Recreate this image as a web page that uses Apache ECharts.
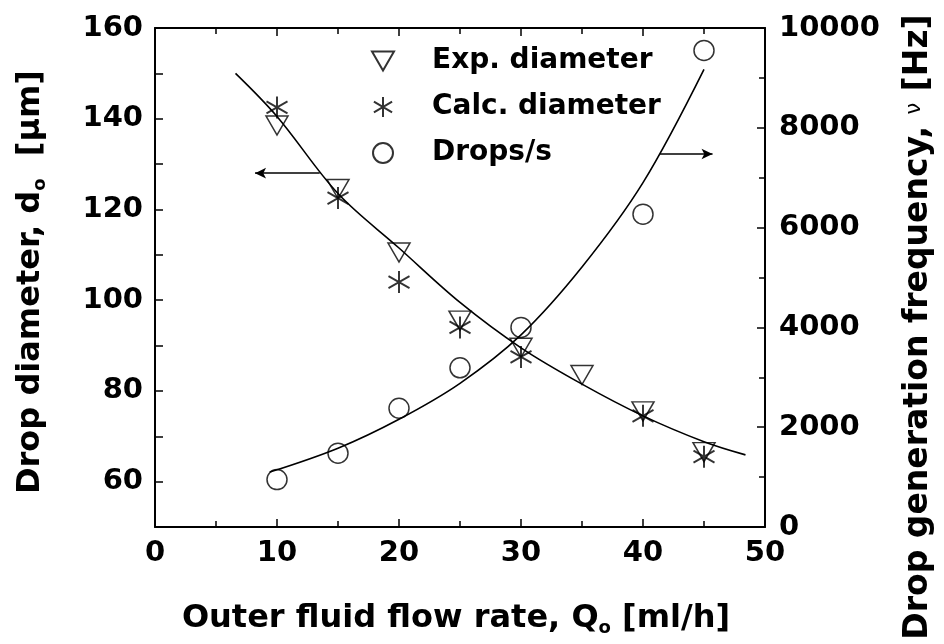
<!DOCTYPE html>
<html><head><meta charset="utf-8">
<script src="https://cdn.jsdelivr.net/npm/echarts@6/dist/echarts.min.js"></script>
<style>html,body{margin:0;padding:0;background:#fff}#c{width:944px;height:644px}</style>
</head><body><div id="c"></div>
<script>
// ---- data ----
const flowRates    = [10, 15, 20, 25, 30, 35, 40, 45];
const expDiameter  = [138.5, 124.5, 110.5, 95.5, 89.5, 83.5, 75.5, 66.5];
const calcFlow     = [10, 15, 20, 25, 30, 40, 45];
const calcDiameter = [142.5, 122.5, 104, 94, 87.5, 74.5, 65.5];
const dropsFlow    = [10, 15, 20, 25, 30, 40, 45];
const dropsPerSec  = [950, 1480, 2380, 3190, 4000, 6270, 9550];
const diamFitX = [6.6, 10, 15, 20, 25, 30, 35, 40, 45, 48.4];
const diamFitY = [150, 140.5, 123.5, 111.5, 99.5, 89.5, 81.5, 74.5, 68.8, 65.9];
const freqFitX = [9.4, 15, 20, 25, 30, 35, 40, 45];
const freqFitY = [1100, 1580, 2160, 2880, 3850, 5210, 6900, 9170];
const leftArrowX = [13.5, 8.2], leftArrowY = 128;
const rightArrowX = [41.4, 45.7], rightArrowY = 7475;
const leftTickLabels = [60, 80, 100, 120, 140, 160];
const legendNames = ['Exp. diameter', 'Calc. diameter', 'Drops/s'];

const zip = (xs, ys) => xs.map((x, i) => [x, ys[i]]);
const FONT = 'DejaVu Sans';
const tickLabel = (m, f) => ({show: true, margin: m, formatter: f, color: '#000', fontFamily: FONT, fontWeight: 'bold', fontSize: 29});
const axLine = () => ({show: true, onZero: false, lineStyle: {color: '#000', width: 2}});
const tick = () => ({show: true, inside: false, length: -8, lineStyle: {color: '#000', width: 1.5}});
const minor = () => ({show: true, splitNumber: 2, length: -6, lineStyle: {color: '#000', width: 1.5}});
const triDown = 'path://M0,0 L22,0 L11,19 Z';
const aster = 'path://M10,0 L10,22 M0,5 L20,17 M0,17 L20,5';
const hollow = () => ({color: 'transparent', borderColor: '#000', borderWidth: 1.5});

const chart = echarts.init(document.getElementById('c'));
chart.setOption({
  animation: false,
  backgroundColor: '#fff',
  grid: {left: 155, right: 179, top: 28, bottom: 117},
  legend: {
    data: legendNames, orient: 'vertical', left: 366, top: 42,
    itemWidth: 22, itemHeight: 20, itemGap: 18,
    textStyle: {color: '#000', fontFamily: FONT, fontWeight: 'bold', fontSize: 28, padding: [0, 0, 0, 33]}
  },
  xAxis: [
    {type: 'value', position: 'bottom', min: 0, max: 50, interval: 10, axisLine: axLine(), axisTick: tick(),
     minorTick: minor(), splitLine: {show: false}, axisLabel: tickLabel(12, v => String(v))},
    {type: 'value', position: 'top', min: 0, max: 50, interval: 10, axisLine: axLine(),
     axisTick: tick(), minorTick: minor(), splitLine: {show: false}, axisLabel: {show: false}}
  ],
  yAxis: [
    {type: 'value', position: 'left', min: 50, max: 160, interval: 10, axisLine: axLine(), axisTick: tick(),
     minorTick: {show: false}, splitLine: {show: false},
     axisLabel: tickLabel(12, v => leftTickLabels.includes(v) ? String(v) : '')},
    {type: 'value', min: 0, max: 10000, interval: 2000, position: 'right', axisLine: axLine(),
     axisTick: tick(), minorTick: minor(), splitLine: {show: false},
     axisLabel: tickLabel(14, v => String(v))}
  ],
  series: [
    {name: 'Exp. diameter', type: 'scatter', data: zip(flowRates, expDiameter),
     symbol: triDown, symbolSize: [22, 19], itemStyle: hollow()},
    {name: 'Calc. diameter', type: 'scatter', data: zip(calcFlow, calcDiameter),
     symbol: aster, symbolSize: [21, 22], itemStyle: {color: 'transparent', borderColor: '#000', borderWidth: 2}},
    {name: 'Drops/s', type: 'scatter', yAxisIndex: 1, data: zip(dropsFlow, dropsPerSec),
     symbol: 'circle', symbolSize: 20, itemStyle: hollow()},
    {name: 'diameter fit', type: 'line', data: zip(diamFitX, diamFitY), smooth: 0.35,
     showSymbol: false, lineStyle: {color: '#000', width: 1.6},
     markLine: {silent: true, symbol: ['none', 'arrow'], symbolSize: [8, 11], label: {show: false},
       lineStyle: {type: 'solid', color: '#000', width: 1.5},
       data: [[{coord: [leftArrowX[0], leftArrowY]}, {coord: [leftArrowX[1], leftArrowY]}]]}},
    {name: 'frequency fit', type: 'line', yAxisIndex: 1, data: zip(freqFitX, freqFitY), smooth: 0.35,
     showSymbol: false, lineStyle: {color: '#000', width: 1.6},
     markLine: {silent: true, symbol: ['none', 'arrow'], symbolSize: [8, 11], label: {show: false},
       lineStyle: {type: 'solid', color: '#000', width: 1.5},
       data: [[{coord: [rightArrowX[0], rightArrowY]}, {coord: [rightArrowX[1], rightArrowY]}]]}}
  ],
  graphic: [
    {type: 'text', x: 456, y: 619,
     style: {text: 'Outer fluid flow rate, Q{s|o} [ml/h]', fontFamily: FONT, fontWeight: 'bold', fontSize: 32,
       fill: '#000', textAlign: 'center', textVerticalAlign: 'middle', align: 'center', verticalAlign: 'middle',
       rich: {s: {fontFamily: FONT, fontWeight: 'bold', fontSize: 18, padding: [18, 0, 0, 0]}}}},
    {type: 'text', x: 31, y: 282, rotation: Math.PI / 2,
     style: {text: 'Drop diameter, d{s|o}  [μm]', fontFamily: FONT, fontWeight: 'bold', fontSize: 32,
       fill: '#000', textAlign: 'center', textVerticalAlign: 'middle', align: 'center', verticalAlign: 'middle',
       rich: {s: {fontFamily: FONT, fontWeight: 'bold', fontSize: 18, padding: [18, 0, 0, 0]}}}},
    {type: 'text', x: 918, y: 327, rotation: Math.PI / 2,
     style: {text: 'Drop generation frequency, {n|ν} [Hz]', fontFamily: FONT, fontWeight: 'bold', fontSize: 33,
       fill: '#000', textAlign: 'center', textVerticalAlign: 'middle', align: 'center', verticalAlign: 'middle',
       rich: {n: {fontFamily: FONT, fontWeight: 'normal', fontSize: 21, padding: [0, 0, 6, 0]}}}}
  ]
});
</script></body></html>
